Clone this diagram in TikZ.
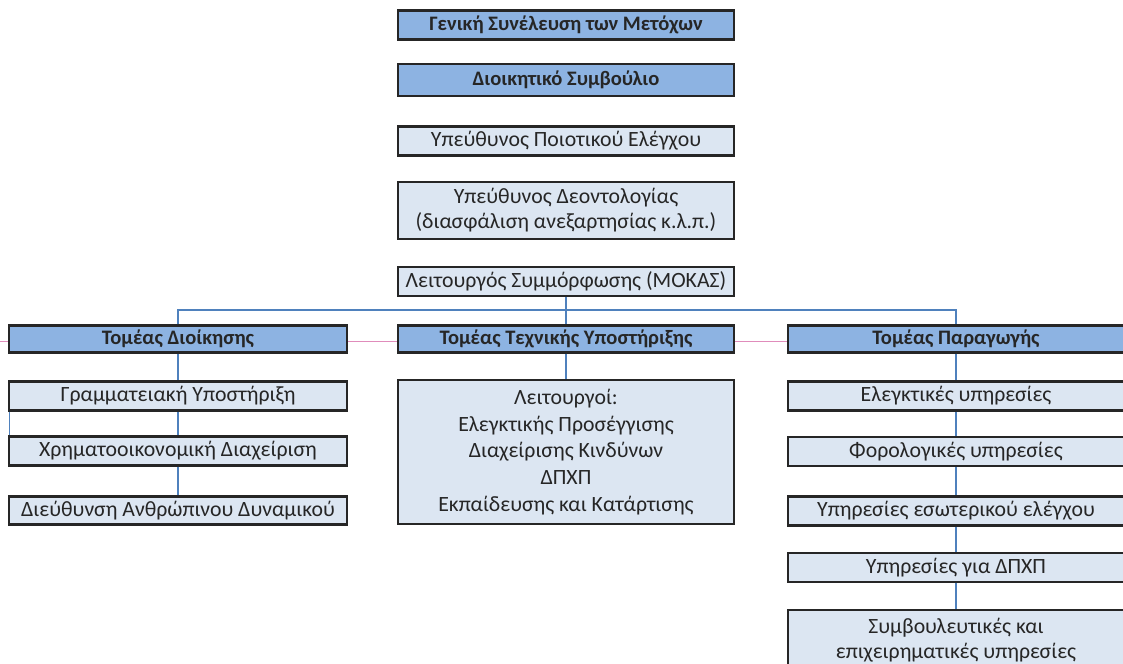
\documentclass[tikz,border=0pt]{standalone}
\usepackage{fontspec}
\setmainfont{Carlito}
\definecolor{boxdark}{HTML}{8DB3E2}
\definecolor{boxlight}{HTML}{DCE6F2}
\definecolor{linkblue}{HTML}{4F81BD}
\definecolor{scanpink}{HTML}{E08CBB}

\begin{document}
\begin{tikzpicture}[x=0.02cm, y=-0.02cm,
	unitbox/.style={draw=black!85, line width=1.4pt, minimum width=6.72cm, minimum height=0.58cm, inner sep=0pt, align=center, text=black!85, font=\fontsize{12.4}{14.3}\selectfont},
	headbox/.style={unitbox, fill=boxdark, font=\fontsize{11.7}{14.3}\selectfont\bfseries},
	subbox/.style={unitbox, fill=boxlight},
	link/.style={linkblue, line width=0.8pt}]
	\useasboundingbox[fill=white] (0,0) rectangle (1123,663);
	\draw[scanpink, line width=0.5pt] (0,341) -- (1123,341);
	% top of the chart
	\node[headbox] (gsm) at (566,25) {Γενική Συνέλευση των Μετόχων};
	\node[headbox, minimum height=0.64cm] (board) at (566,80) {Διοικητικό Συμβούλιο};
	\node[subbox] (quality) at (566,141) {Υπεύθυνος Ποιοτικού Ελέγχου};
	\node[subbox, minimum height=1.14cm] (ethics) at (566,210.5) {Υπεύθυνος Δεοντολογίας\\(διασφάλιση ανεξαρτησίας κ.λ.π.)};
	\node[subbox] (mokas) at (566,281.5) {Λειτουργός Συμμόρφωσης (ΜΟΚΑΣ)};
	% sectors
	\node[headbox, minimum width=6.76cm, minimum height=0.54cm] (admin) at (178,339) {Τομέας Διοίκησης};
	\node[headbox, minimum height=0.54cm] (tech) at (566,339) {Τομέας Τεχνικής Υποστήριξης};
	\node[headbox, minimum height=0.54cm] (prod) at (956,339) {Τομέας Παραγωγής};
	% administration
	\node[subbox, minimum width=6.76cm] (secr) at (178,396) {Γραμματειακή Υποστήριξη};
	\node[subbox, minimum width=6.76cm] (fin) at (178,451) {Χρηματοοικονομική Διαχείριση};
	\node[subbox, minimum width=6.76cm, minimum height=0.56cm] (hr) at (178,510.5) {Διεύθυνση Ανθρώπινου Δυναμικού};
	% technical support
	\node[subbox, minimum height=2.88cm, font=\fontsize{12.4}{15.3}\selectfont] (staff) at (566,452) {Λειτουργοί:\\Ελεγκτικής Προσέγγισης\\Διαχείρισης Κινδύνων\\ΔΠΧΠ\\Εκπαίδευσης και Κατάρτισης};
	% production
	\node[subbox] (audit) at (956,396) {Ελεγκτικές υπηρεσίες};
	\node[subbox] (tax) at (956,451.5) {Φορολογικές υπηρεσίες};
	\node[subbox] (internal) at (956,511) {Υπηρεσίες εσωτερικού ελέγχου};
	\node[subbox] (ifrs) at (956,567.5) {Υπηρεσίες για ΔΠΧΠ};
	\node[subbox, minimum height=1.2cm, anchor=north] (consult) at (956,609) {Συμβουλευτικές και\\επιχειρηματικές υπηρεσίες};
	% connectors
	\coordinate (bus) at (566,310);
	\draw[link] (mokas.south) -- (bus);
	\draw[link] (admin.north) |- (bus) -| (prod.north);
	\draw[link] (bus) -- (tech.north);
	\draw[link] (admin.south) -- (secr.north);
	\draw[link] (secr.south) -- (fin.north);
	\draw[link] (fin.south) -- (hr.north);
	\draw[link] ([xshift=1pt]secr.south west) -- ([xshift=1pt]fin.north west);
	\draw[link] (tech.south) -- (staff.north);
	\draw[link] (prod.south) -- (audit.north);
	\draw[link] (audit.south) -- (tax.north);
	\draw[link] (tax.south) -- (internal.north);
	\draw[link] (internal.south) -- (ifrs.north);
	\draw[link] (ifrs.south) -- (consult.north);
\end{tikzpicture}
\end{document}
